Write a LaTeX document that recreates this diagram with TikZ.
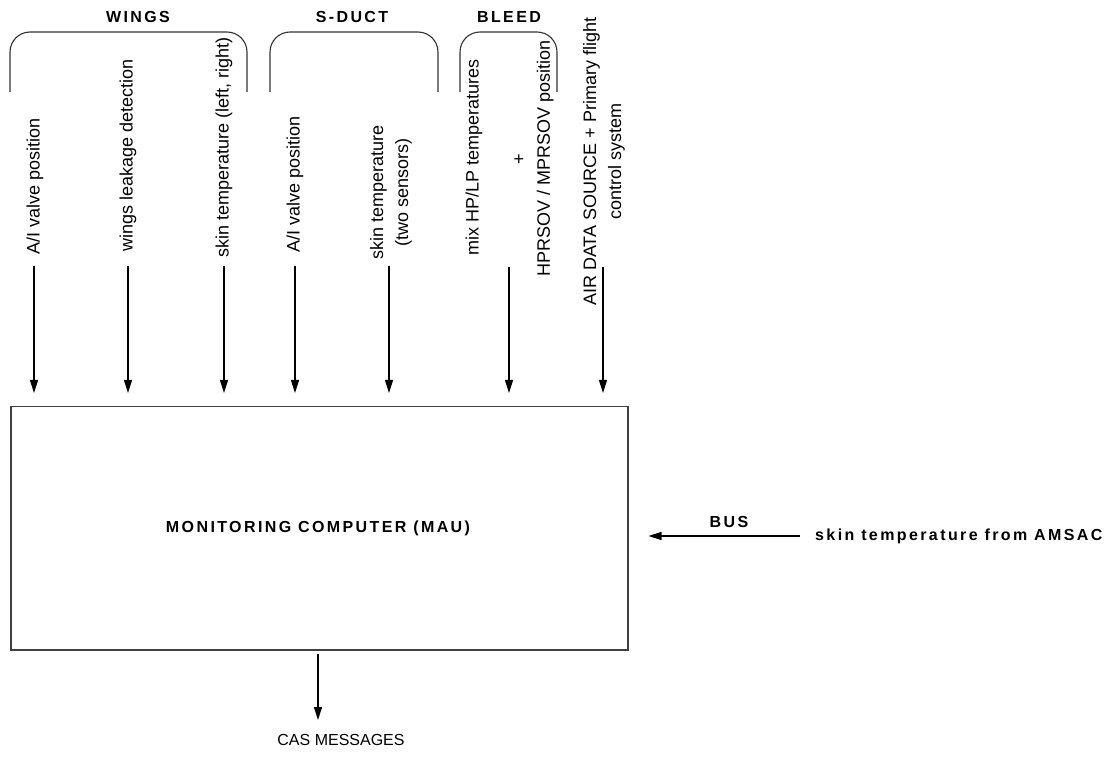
\documentclass[tikz,border=0pt]{standalone}
\usepackage{fontspec}
\setmainfont{Liberation Sans}
\newfontfamily\hdrfont{Liberation Sans}[LetterSpace=15]
\usetikzlibrary{arrows.meta}
\tikzset{
  vlab/.style={rotate=90, anchor=west, inner sep=0pt, align=center,
    font=\fontsize{18}{25}\selectfont},
  hdr/.style={inner sep=0pt, font=\hdrfont\bfseries\fontsize{16}{19}\selectfont},
  brk/.style={draw=black!80, line width=1.1pt, rounded corners=20pt},
  arr/.style={draw=black, line width=1.1pt, -{Triangle[length=13pt,width=8pt]}},
  boxst/.style={draw=black!75, line width=1.5pt, inner sep=0pt,
    minimum width=617pt, minimum height=243pt, anchor=north west},
}
\begin{document}
\begin{tikzpicture}[x=1pt,y=-1pt]
\useasboundingbox (0,0) rectangle (1104,759);

% group headers
\node[hdr] (hwings) at (138,17) {WINGS};
\node[hdr] (hsduct) at (352,17) {S-DUCT};
\node[hdr] (hbleed) at (509,17) {BLEED};

% brackets
\draw[brk] (10,92) -- (10,32) -- (247,32) -- (247,92);
\draw[brk] (270,92) -- (270,32) -- (438,32) -- (438,92);
\draw[brk] (460,92) -- (460,32) -- (557,32) -- (557,92);

% vertical labels
\node[vlab] (t1) at (35,255) {A/I valve position};
\node[vlab] (t2) at (128,252) {wings leakage detection};
\node[vlab] (t3) at (224,258) {skin temperature (left, right)};
\node[vlab] (t4) at (295,253) {A/I valve position};
\node[vlab] (t5) at (391,260) {skin temperature\\(two sensors)};
\node[vlab] (t6) at (474,256) {mix HP/LP temperatures};
\node[vlab] (t7) at (534,277) {+\\HPRSOV / MPRSOV position};
\node[vlab] (t8) at (604,306) {AIR DATA SOURCE + Primary flight\\control system};

% main box
\node[boxst] (mau) at (10,406) {};
\node[hdr] (maulabel) at (318,528) {MONITORING COMPUTER (MAU)};

% arrow start points
\coordinate (s1) at (34,266);
\coordinate (s2) at (128,266);
\coordinate (s3) at (224,266);
\coordinate (s4) at (295,266);
\coordinate (s5) at (389,266);
\coordinate (s6) at (509,267);
\coordinate (s7) at (603,267);

\foreach \s in {s1,s2,s3,s4,s5,s6,s7}
  \draw[arr, shorten >=13pt] (\s) -- (mau.north -| \s);

% bus input
\node[hdr, anchor=west] (amsac) at (815,536) {skin temperature from AMSAC};
\node[hdr] (bus) at (729,522) {BUS};
\coordinate (busin) at (800,536);
\draw[arr, shorten >=20pt] (busin) -- (mau.east |- busin);

% output
\coordinate (casin) at (318,720);
\node[inner sep=0pt, font=\fontsize{16}{19}\selectfont] (cas) at (341,740) {CAS MESSAGES};
\draw[arr, shorten <=3pt] (mau.south -| casin) -- (casin);
\end{tikzpicture}
\end{document}
